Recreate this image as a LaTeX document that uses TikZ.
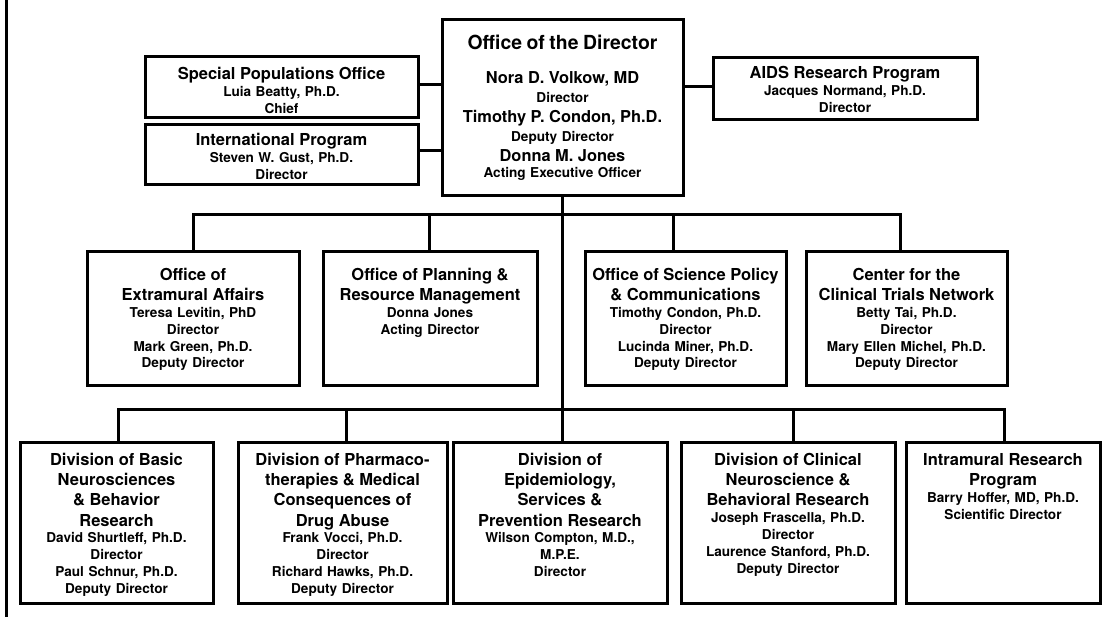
\documentclass[tikz,border=0pt]{standalone}
\usepackage{fontspec}
\setmainfont{TeX Gyre Heros}
\usetikzlibrary{fit}

% type sizes: box titles, small lines, director box
\newcommand\ttl{\fontsize{16.5}{20.2}\selectfont}
\newcommand\sml{\fontsize{13.6}{16.8}\selectfont}
\newcommand\dtl{\fontsize{19.4}{22}\selectfont}
\newcommand\dnm{\fontsize{16.4}{19.5}\selectfont}
\newcommand\dsm{\fontsize{13.6}{19.5}\selectfont}

\tikzset{
  box/.style={draw, line width=3pt, inner sep=0pt},
  txt/.style={text width=250pt, align=center, inner sep=0pt, anchor=north,
              font=\bfseries\sml},
  link/.style={draw, line width=3pt, line join=miter}
}

% \orgbox{name}{x1}{y1}{x2}{y2}{text top}{text}
\newcommand\orgbox[7]{%
  \node[box, fit={(#2,#3) (#4,#5)}] (#1) {};
  \node[txt] (#1-text) at ({(#2+#4)/2},#6) {#7};}

\begin{document}
\begin{tikzpicture}[x=1pt, y=-1pt]
\useasboundingbox (0,0) rectangle (1104,623);
\fill[white] (0,0) rectangle (1104,623);

% rule along the left edge
\draw[line width=3pt] (6.5,0) -- (6.5,617);

% top level
\orgbox{dir}{442}{20}{683}{196}{35}{{\dtl Office of the Director\par}\vspace{14pt}\dnm Nora D. Volkow, MD\\{\dsm Director}\\Timothy P. Condon, Ph.D.\\{\dsm Deputy Director}\\Donna M. Jones\\{\dsm Acting Executive Officer}}
\orgbox{sp}{145}{57}{418}{118}{67}{{\ttl Special Populations Office\par}Luia Beatty, Ph.D.\\Chief}
\orgbox{intl}{145}{125}{418}{185}{133}{{\ttl International Program\par}Steven W. Gust, Ph.D.\\Director}
\orgbox{aids}{713}{58}{977}{120}{66}{{\ttl AIDS Research Program\par}Jacques Normand, Ph.D.\\Director}

% offices
\orgbox{ext}{87}{251}{299}{385}{268}{{\ttl Office of\\Extramural Affairs\par}Teresa Levitin, PhD\\Director\\Mark Green, Ph.D.\\Deputy Director}
\orgbox{plan}{323}{251}{537}{385}{268}{{\ttl Office of Planning \&\\Resource Management\par}Donna Jones\\Acting Director}
\orgbox{sci}{585}{251}{786}{385}{268}{{\ttl Office of Science Policy\\\& Communications\par}Timothy Condon, Ph.D.\\Director\\Lucinda Miner, Ph.D.\\Deputy Director}
\orgbox{cctn}{806}{251}{1007}{385}{268}{{\ttl Center for the\\Clinical Trials Network\par}Betty Tai, Ph.D.\\Director\\Mary Ellen Michel, Ph.D.\\Deputy Director}

% divisions
\orgbox{b1}{20}{442}{213}{603}{453}{{\ttl Division of Basic\\Neurosciences\\\& Behavior\\Research\par}David Shurtleff, Ph.D.\\Director\\Paul Schnur, Ph.D.\\Deputy Director}
\orgbox{b2}{238}{442}{447}{603}{453}{{\ttl Division of Pharmaco-\\therapies \& Medical\\Consequences of\\Drug Abuse\par}Frank Vocci, Ph.D.\\Director\\Richard Hawks, Ph.D.\\Deputy Director}
\orgbox{b3}{453}{442}{667}{603}{453}{{\ttl Division of\\Epidemiology,\\Services \&\\Prevention Research\par}Wilson Compton, M.D.,\\M.P.E.\\Director}
\orgbox{b4}{681}{442}{895}{603}{453}{{\ttl Division of Clinical\\Neuroscience \&\\Behavioral Research\par}Joseph Frascella, Ph.D.\\Director\\Laurence Stanford, Ph.D.\\Deputy Director}
\orgbox{b5}{906}{442}{1100}{603}{453}{{\ttl Intramural Research\\Program\par}Barry Hoffer, MD, Ph.D.\\Scientific Director}

% staff offices beside the director
\draw[link] ([yshift=2.5pt]sp.east) -- ([yshift=2.5pt]sp.east -| dir.west);
\draw[link] ([yshift=4pt]intl.east) -- ([yshift=4pt]intl.east -| dir.west);
\draw[link] ([yshift=2pt]aids.west) -- ([yshift=2pt]aids.west -| dir.east);

% main trunk
\draw[link] (dir.south) -- (dir.south |- b3.north);

% office bus
\coordinate (m1) at (193,215);
\coordinate (m2) at (429,215);
\coordinate (m3) at (673,215);
\coordinate (m4) at (900,215);
\draw[link] (m1 |- ext.north) -- (m1) -- (m4) -- (m4 |- cctn.north);
\draw[link] (m2) -- (m2 |- plan.north);
\draw[link] (m3) -- (m3 |- sci.north);

% division bus
\coordinate (d1) at (118,409);
\coordinate (d2) at (346,409);
\coordinate (d4) at (793,409);
\coordinate (d5) at (1004,409);
\draw[link] (d1 |- b1.north) -- (d1) -- (d5) -- (d5 |- b5.north);
\draw[link] (d2) -- (d2 |- b2.north);
\draw[link] (d4) -- (d4 |- b4.north);
\end{tikzpicture}
\end{document}
